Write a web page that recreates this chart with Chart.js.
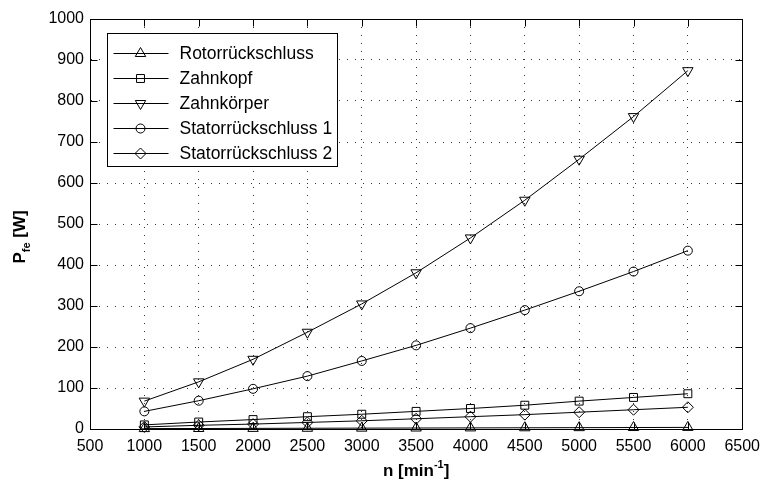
<!DOCTYPE html>
<html>
<head>
<meta charset="utf-8">
<script src="https://cdn.jsdelivr.net/npm/chart.js@4.4.1/dist/chart.umd.min.js"></script>
<style>
  html, body { margin: 0; padding: 0; background: #fff; }
  #wrap { width: 768px; height: 484px; }
</style>
</head>
<body>
<div id="wrap"><canvas id="lossChart" width="768" height="484"></canvas></div>
<script>
// Drehzahl n [min^-1]
const speeds = [1000, 1500, 2000, 2500, 3000, 3500, 4000, 4500, 5000, 5500, 6000];

// Eisenverluste P_fe [W] je Bereich
const rotorRueckschluss = [1.0, 1.2, 1.5, 1.8, 2.1, 2.4, 2.7, 3.0, 3.3, 3.6, 3.9];
const zahnkopf = [10, 17, 23, 30, 36, 43, 50, 58, 68, 77, 86];
const zahnkoerper = [68, 115, 170, 236, 305, 381, 466, 558, 658, 762, 874];
const statorRueckschluss1 = [43, 69, 98, 129, 166, 204, 246, 290, 336, 384, 435];
const statorRueckschluss2 = [5, 9, 12, 16, 20, 25, 30, 35, 41, 47, 53];

const seriesLabels = ['Rotorrückschluss', 'Zahnkopf', 'Zahnkörper', 'Statorrückschluss 1', 'Statorrückschluss 2'];

const xTicks = [500, 1000, 1500, 2000, 2500, 3000, 3500, 4000, 4500, 5000, 5500, 6000, 6500];
const yTicks = [0, 100, 200, 300, 400, 500, 600, 700, 800, 900, 1000];

const FONT = '"Liberation Sans", Arial, Helvetica, sans-serif';

function toPoints(values) {
    return speeds.map((n, i) => ({ x: n, y: values[i] }));
}

function makeSet(label, values, style, radius, rotation) {
    return {
        label: label,
        data: toPoints(values),
        borderColor: '#000',
        borderWidth: 1,
        backgroundColor: 'rgba(0,0,0,0)',
        pointStyle: style,
        pointRadius: radius,
        pointRotation: rotation || 0,
        pointBorderColor: '#000',
        pointBackgroundColor: 'rgba(0,0,0,0)',
        pointBorderWidth: 1,
        tension: 0,
        clip: false
    };
}

// Rahmen, Ticks nach innen, Legende und Achsentitel im Matlab-Stil
const matlabFrame = {
    id: 'matlabFrame',
    afterDraw(chart) {
        const ctx = chart.ctx;
        const a = chart.chartArea;
        const xs = chart.scales.x;
        const ys = chart.scales.y;
        const L = Math.round(a.left) + 0.5, R = Math.round(a.right) + 0.5;
        const T = Math.round(a.top) + 0.5, B = Math.round(a.bottom) + 0.5;
        const tickLen = 7;

        ctx.save();
        ctx.strokeStyle = '#000';
        ctx.lineWidth = 1;
        ctx.setLineDash([]);
        ctx.beginPath();
        ctx.rect(L, T, R - L, B - T);
        xTicks.forEach(v => {
            const px = Math.round(xs.getPixelForValue(v)) + 0.5;
            ctx.moveTo(px, B); ctx.lineTo(px, B - tickLen);
            ctx.moveTo(px, T); ctx.lineTo(px, T + tickLen);
        });
        yTicks.forEach(v => {
            const py = Math.round(ys.getPixelForValue(v)) + 0.5;
            ctx.moveTo(L, py); ctx.lineTo(L + tickLen, py);
            ctx.moveTo(R, py); ctx.lineTo(R - tickLen, py);
        });
        ctx.stroke();

        // Legende
        const lx = 107.5, ly = 33.5, lw = 230, lh = 133;
        ctx.fillStyle = '#fff';
        ctx.fillRect(lx, ly, lw, lh);
        ctx.strokeRect(lx, ly, lw, lh);
        ctx.font = '17.5px ' + FONT;
        ctx.textBaseline = 'middle';
        ctx.textAlign = 'left';
        chart.data.datasets.forEach((ds, i) => {
            const rowY = Math.round(ly + 19 + i * 25) + 0.5;
            ctx.strokeStyle = '#000';
            ctx.beginPath();
            ctx.moveTo(lx + 6, rowY);
            ctx.lineTo(lx + 61, rowY);
            ctx.stroke();
            ctx.fillStyle = 'rgba(0,0,0,0)';
            Chart.helpers.drawPoint(ctx, {
                pointStyle: ds.pointStyle,
                radius: ds.pointRadius,
                rotation: ds.pointRotation,
                borderWidth: 1
            }, lx + 33, rowY);
            ctx.fillStyle = '#000';
            ctx.fillText(ds.label, lx + 72, rowY + 1);
        });

        // x-Achsentitel: n [min^-1]
        ctx.fillStyle = '#000';
        ctx.textBaseline = 'alphabetic';
        const big = 'bold 17px ' + FONT, small = 'bold 11px ' + FONT;
        ctx.font = big;
        const w1 = ctx.measureText('n [min').width;
        const w3 = ctx.measureText(']').width;
        ctx.font = small;
        const w2 = ctx.measureText('-1').width;
        let x0 = (a.left + a.right) / 2 - (w1 + w2 + w3) / 2;
        const xBase = 476;
        ctx.font = big; ctx.fillText('n [min', x0, xBase);
        ctx.font = small; ctx.fillText('-1', x0 + w1, xBase - 8);
        ctx.font = big; ctx.fillText(']', x0 + w1 + w2, xBase);

        // y-Achsentitel: P_fe [W]
        ctx.translate(25, 237);
        ctx.rotate(-Math.PI / 2);
        ctx.font = big;
        const p1 = ctx.measureText('P').width;
        const p3 = ctx.measureText(' [W]').width;
        ctx.font = small;
        const p2 = ctx.measureText('fe').width;
        const y0 = -(p1 + p2 + p3) / 2;
        ctx.font = big; ctx.fillText('P', y0, 0);
        ctx.font = small; ctx.fillText('fe', y0 + p1, 5);
        ctx.font = big; ctx.fillText(' [W]', y0 + p1 + p2, 0);
        ctx.restore();
    }
};

const ctx = document.getElementById('lossChart').getContext('2d');
const lossChart = new Chart(ctx, {
    type: 'line',
    data: {
        datasets: [
            makeSet(seriesLabels[0], rotorRueckschluss, 'triangle', 6, 0),
            makeSet(seriesLabels[1], zahnkopf, 'rect', 5.6, 0),
            makeSet(seriesLabels[2], zahnkoerper, 'triangle', 6, 180),
            makeSet(seriesLabels[3], statorRueckschluss1, 'circle', 4.5, 0),
            makeSet(seriesLabels[4], statorRueckschluss2, 'rectRot', 5.5, 0)
        ]
    },
    options: {
        responsive: false,
        animation: false,
        layout: { padding: { top: 19, right: 22, left: 0, bottom: 0 } },
        plugins: {
            legend: { display: false },
            tooltip: { enabled: false }
        },
        scales: {
            x: {
                type: 'linear',
                min: 500,
                max: 6500,
                afterFit: s => { s.height = 55; },
                afterBuildTicks: s => { s.ticks = xTicks.map(v => ({ value: v })); },
                ticks: {
                    padding: 8,
                    color: '#000',
                    font: { family: FONT, size: 16 },
                    maxRotation: 0,
                    autoSkip: false,
                    callback: v => String(v)
                },
                grid: { color: 'rgba(0,0,0,0.8)', lineWidth: 1, drawTicks: false },
                border: { display: true, color: '#000', dash: [1, 7] }
            },
            y: {
                min: 0,
                max: 1000,
                afterFit: s => { s.width = 90; },
                afterBuildTicks: s => { s.ticks = yTicks.map(v => ({ value: v })); },
                ticks: {
                    padding: 6,
                    color: '#000',
                    font: { family: FONT, size: 16 },
                    autoSkip: false,
                    callback: v => String(v)
                },
                grid: { color: 'rgba(0,0,0,0.8)', lineWidth: 1, drawTicks: false },
                border: { display: true, color: '#000', dash: [1, 7] }
            }
        }
    },
    plugins: [matlabFrame]
});
</script>
</body>
</html>
